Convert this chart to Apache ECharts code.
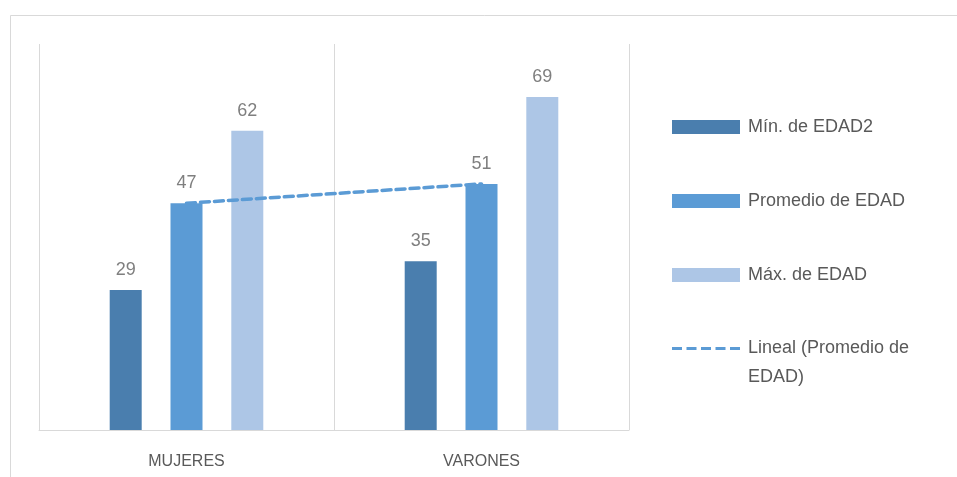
<!DOCTYPE html>
<html>
<head>
<meta charset="utf-8">
<script src="https://cdn.jsdelivr.net/npm/echarts@6/dist/echarts.min.js"></script>
<style>html,body{margin:0;padding:0;background:#fff;}#c{width:957px;height:477px;}</style>
</head>
<body>
<div id="c"></div>
<script>
const categories = ['MUJERES', 'VARONES'];
const minEdad = [29, 35];
const promEdad = [47, 51];
const maxEdad = [62, 69];
const trendPromedio = [47, 51];
const seriesNames = ['Mín. de EDAD2', 'Promedio de EDAD', 'Máx. de EDAD', 'Lineal (Promedio de EDAD)'];

const chart = echarts.init(document.getElementById('c'), null, {renderer: 'canvas'});
const labelStyle = {show: true, position: 'top', distance: 11, color: '#7f7f7f', fontSize: 18, fontFamily: 'Liberation Sans'};
const legendText = {color: '#595959', fontSize: 18, fontFamily: 'Liberation Sans', lineHeight: 20, padding: [0, 0, 0, 3]};
chart.setOption({
  animation: false,
  backgroundColor: '#ffffff',
  graphic: [{
    type: 'rect', silent: true,
    shape: {x: 10.5, y: 15.5, width: 1200, height: 1000},
    style: {fill: 'none', stroke: '#d9d9d9', lineWidth: 1}
  }],
  grid: {left: 39, right: 328, top: 44, bottom: 47, containLabel: false},
  legend: [{
    orient: 'vertical', left: 667, top: 112,
    itemWidth: 68, itemHeight: 14, itemGap: 54,
    textStyle: legendText,
    data: [
      {name: seriesNames[0], icon: 'rect'},
      {name: seriesNames[1], icon: 'rect'},
      {name: seriesNames[2], icon: 'rect'}
    ]
  }, {
    orient: 'vertical', left: 667, top: 300,
    itemWidth: 68, itemHeight: 3,
    textStyle: {color: '#595959', fontSize: 18, fontFamily: 'Liberation Sans', lineHeight: 29, padding: [0, 0, 0, 3]},
    formatter: function () { return '\u00a0\nLineal (Promedio de\nEDAD)'; },
    data: [
      {name: seriesNames[3], icon: 'path://M0 0h10v3H0z M14.5 0h10v3H14.5z M29 0h10v3H29z M43.5 0h10v3H43.5z M58 0h10v3H58z'}
    ]
  }],
  xAxis: {
    type: 'category', data: categories,
    axisLine: {show: true, lineStyle: {color: '#d9d9d9', width: 1}},
    axisTick: {show: false},
    axisLabel: {color: '#595959', fontSize: 16, fontFamily: 'Liberation Sans', margin: 24},
    splitLine: {show: true, lineStyle: {color: '#d9d9d9', width: 1}}
  },
  yAxis: {
    type: 'value', min: 0, max: 80, interval: 10,
    axisLine: {show: false}, axisTick: {show: false}, axisLabel: {show: false}, splitLine: {show: false}
  },
  series: [
    {name: seriesNames[0], type: 'bar', data: minEdad, barWidth: 32, barGap: '90%', itemStyle: {color: '#4a7eae'}, label: labelStyle},
    {name: seriesNames[1], type: 'bar', data: promEdad, barWidth: 32, barGap: '90%', itemStyle: {color: '#5b9bd5'}, label: labelStyle},
    {name: seriesNames[2], type: 'bar', data: maxEdad, barWidth: 32, barGap: '90%', itemStyle: {color: '#adc6e6'}, label: labelStyle},
    {name: seriesNames[3], type: 'line', data: trendPromedio, symbol: 'none', showSymbol: false, z: 5,
     itemStyle: {color: '#5b9bd5'},
     lineStyle: {color: '#5b9bd5', width: 3.5, type: [9, 5], cap: 'round'}}
  ]
});
</script>
</body>
</html>
